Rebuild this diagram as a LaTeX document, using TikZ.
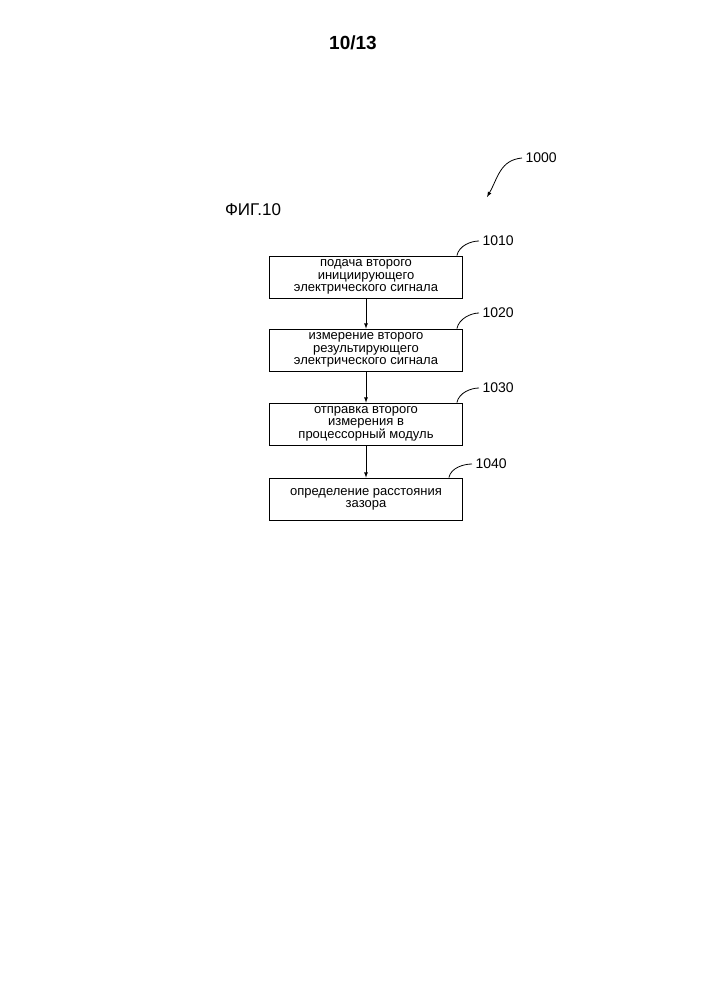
\documentclass[tikz,border=0pt]{standalone}
\usepackage{fontspec}
\setmainfont{Liberation Sans}
\usetikzlibrary{positioning}
\tikzset{
  flowstep/.style={draw, line width=0.8pt, minimum width=193pt, minimum height=42pt, align=center, inner sep=1pt, font=\fontsize{13}{12.2}\selectfont},
  num/.style={font=\fontsize{14}{16}\selectfont, anchor=west},
  lead/.style={line width=0.8pt}
}
\begin{document}
\begin{tikzpicture}[x=1pt,y=-1pt]
    \useasboundingbox (0,0) rectangle (706,999);
    \node[font=\fontsize{19}{22}\selectfont\bfseries] (page) at (353,43) {10/13};
    \node[font=\fontsize{17}{20}\selectfont] (fig) at (253,210) {ФИГ.10};

    % reference numeral of the method
    \node[num] (n1000) at (522,158) {1000};
    \draw[-latex, line width=0.8pt] (n1000.west) .. controls (500,160) and (498,178) .. (487,197);

    % steps
    \node[flowstep] (s1) at (366,277) {подача второго\\инициирующего\\электрического сигнала};
    \node[flowstep] (s2) at (366,350) {измерение второго\\результирующего\\электрического сигнала};
    \node[flowstep] (s3) at (366,424) {отправка второго\\измерения в\\процессорный модуль};
    \node[flowstep] (s4) at (366,499) {определение расстояния\\зазора};

    \draw[-latex, line width=0.8pt] (s1) -- (s2);
    \draw[-latex, line width=0.8pt] (s2) -- (s3);
    \draw[-latex, line width=0.8pt] (s3) -- (s4);

    % labels
    \node[num] (n1010) at (479,241) {1010};
    \node[num] (n1020) at (479,313) {1020};
    \node[num] (n1030) at (479,388) {1030};
    \node[num] (n1040) at (472,464) {1040};
    \draw[lead] ([xshift=-6pt]s1.north east) .. controls +(2,-10) and +(-8,0) .. (n1010.west);
    \draw[lead] ([xshift=-6pt]s2.north east) .. controls +(2,-10) and +(-8,0) .. (n1020.west);
    \draw[lead] ([xshift=-6pt]s3.north east) .. controls +(2,-10) and +(-8,0) .. (n1030.west);
    \draw[lead] ([xshift=-14pt]s4.north east) .. controls +(2,-10) and +(-8,0) .. (n1040.west);
\end{tikzpicture}
\end{document}
